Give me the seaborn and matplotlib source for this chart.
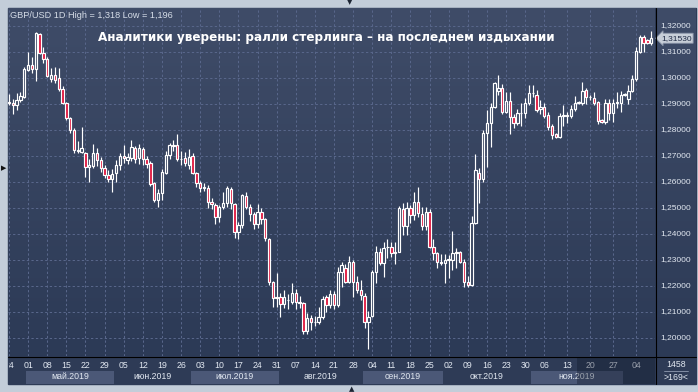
"""
GBP/USD 1D - свечной график, апрель-декабрь 2019
"""
import numpy as np
import pandas as pd
import matplotlib
matplotlib.use("Agg")
import matplotlib.pyplot as plt
from matplotlib.patches import Rectangle
from matplotlib.lines import Line2D
import seaborn as sns

# ---------------------------------------------------------------- données
# séances en semaine + petites séances du dimanche (fin novembre)
SUNDAY_BARS = ["2019-11-10", "2019-11-17", "2019-11-24", "2019-12-01", "2019-12-08"]
DATES = pd.bdate_range("2019-04-24", "2019-12-09").union(pd.to_datetime(SUNDAY_BARS))

OPENS = [
    1.2908, 1.2905, 1.2898,
    1.2915, 1.2926, 1.3031, 1.3050, 1.3035,
    1.3168, 1.3095, 1.3072, 1.2997, 1.3010,
    1.3000, 1.2956, 1.2905, 1.2845, 1.2800,
    1.2718, 1.2717, 1.2710, 1.2659, 1.2662,
    1.2712, 1.2685, 1.2654, 1.2628, 1.2611,
    1.2633, 1.2665, 1.2700, 1.2685, 1.2691,
    1.2730, 1.2691, 1.2727, 1.2687, 1.2672,
    1.2595, 1.2531, 1.2556, 1.2636, 1.2704,
    1.2742, 1.2742, 1.2687, 1.2691, 1.2665,
    1.2700, 1.2636, 1.2595, 1.2578, 1.2578,
    1.2524, 1.2512, 1.2464, 1.2503, 1.2520,
    1.2573, 1.2515, 1.2406, 1.2433, 1.2547,
    1.2505, 1.2476, 1.2438, 1.2483, 1.2456,
    1.2380, 1.2216, 1.2153, 1.2156, 1.2130,
    1.2148, 1.2140, 1.2172, 1.2140, 1.2133,
    1.2028, 1.2076, 1.2060, 1.2063, 1.2082,
    1.2156, 1.2127, 1.2170, 1.2127, 1.2255,
    1.2268, 1.2217, 1.2294, 1.2217, 1.2185,
    1.2162, 1.2063, 1.2085, 1.2255, 1.2332,
    1.2287, 1.2349, 1.2349, 1.2326, 1.2332,
    1.2495, 1.2431, 1.2499, 1.2473, 1.2524,
    1.2476, 1.2431, 1.2486, 1.2351, 1.2326,
    1.2294, 1.2288, 1.2300, 1.2300, 1.2326,
    1.2329, 1.2294, 1.2217, 1.2204, 1.2443,
    1.2636, 1.2610, 1.2787, 1.2828, 1.2890,
    1.2950, 1.2960, 1.2870, 1.2913, 1.2849,
    1.2828, 1.2864, 1.2864, 1.2903, 1.2941,
    1.2935, 1.2880, 1.2890, 1.2857, 1.2815,
    1.2785, 1.2772, 1.2854, 1.2856, 1.2854, 1.2880,
    1.2905, 1.2905, 1.2954, 1.2926, 1.2925, 1.2906,
    1.2838, 1.2831, 1.2905, 1.2864, 1.2905, 1.2905,
    1.2935, 1.2920, 1.2950, 1.2996, 1.3101, 1.3159,
    1.3146, 1.3133,
]
HIGHS = [
    1.2938, 1.2920, 1.2944,
    1.2947, 1.3044, 1.3101, 1.3082, 1.3176,
    1.3172, 1.3120, 1.3080, 1.3037, 1.3044,
    1.3037, 1.2969, 1.2909, 1.2851, 1.2806,
    1.2756, 1.2813, 1.2717, 1.2690, 1.2748,
    1.2730, 1.2695, 1.2665, 1.2645, 1.2650,
    1.2685, 1.2710, 1.2742, 1.2710, 1.2763,
    1.2740, 1.2745, 1.2735, 1.2700, 1.2680,
    1.2600, 1.2575, 1.2650, 1.2720, 1.2750,
    1.2760, 1.2785, 1.2720, 1.2715, 1.2727,
    1.2710, 1.2640, 1.2605, 1.2595, 1.2590,
    1.2540, 1.2520, 1.2510, 1.2560, 1.2583,
    1.2580, 1.2520, 1.2445, 1.2555, 1.2560,
    1.2515, 1.2483, 1.2515, 1.2500, 1.2460,
    1.2385, 1.2220, 1.2250, 1.2175, 1.2185,
    1.2170, 1.2210, 1.2190, 1.2160, 1.2140,
    1.2095, 1.2090, 1.2085, 1.2120, 1.2160,
    1.2165, 1.2185, 1.2180, 1.2273, 1.2294,
    1.2285, 1.2315, 1.2300, 1.2237, 1.2225,
    1.2172, 1.2105, 1.2262, 1.2352, 1.2345,
    1.2370, 1.2380, 1.2371, 1.2371, 1.2506,
    1.2518, 1.2525, 1.2512, 1.2563, 1.2582,
    1.2505, 1.2502, 1.2495, 1.2380, 1.2332,
    1.2325, 1.2325, 1.2318, 1.2410, 1.2345,
    1.2336, 1.2303, 1.2237, 1.2469, 1.2707,
    1.2653, 1.2800, 1.2877, 1.2903, 1.2986,
    1.3012, 1.2978, 1.2948, 1.2948, 1.2860,
    1.2880, 1.2903, 1.2925, 1.2975, 1.2975,
    1.2955, 1.2915, 1.2905, 1.2870, 1.2825,
    1.2790, 1.2865, 1.2898, 1.2871, 1.2895, 1.2930,
    1.2912, 1.2985, 1.2960, 1.2935, 1.2945, 1.2912,
    1.2842, 1.2918, 1.2920, 1.2920, 1.2947, 1.2950,
    1.2942, 1.2975, 1.3010, 1.3120, 1.3165, 1.3165,
    1.3150, 1.3180,
]
LOWS = [
    1.2896, 1.2862, 1.2877,
    1.2909, 1.2922, 1.3028, 1.3021, 1.2990,
    1.3092, 1.3056, 1.3003, 1.2986, 1.2982,
    1.2951, 1.2900, 1.2838, 1.2790, 1.2713,
    1.2713, 1.2710, 1.2620, 1.2601, 1.2655,
    1.2660, 1.2640, 1.2615, 1.2600, 1.2560,
    1.2600, 1.2645, 1.2672, 1.2670, 1.2680,
    1.2675, 1.2670, 1.2665, 1.2655, 1.2585,
    1.2525, 1.2505, 1.2530, 1.2630, 1.2690,
    1.2720, 1.2680, 1.2665, 1.2660, 1.2650,
    1.2630, 1.2580, 1.2560, 1.2565, 1.2500,
    1.2495, 1.2440, 1.2445, 1.2495, 1.2505,
    1.2495, 1.2385, 1.2382, 1.2425, 1.2495,
    1.2450, 1.2420, 1.2425, 1.2440, 1.2375,
    1.2205, 1.2120, 1.2120, 1.2080, 1.2115,
    1.2110, 1.2130, 1.2110, 1.2115, 1.2015,
    1.2015, 1.2030, 1.2045, 1.2055, 1.2075,
    1.2100, 1.2115, 1.2110, 1.2120, 1.2197,
    1.2210, 1.2210, 1.2157, 1.2172, 1.2145,
    1.2037, 1.1958, 1.2082, 1.2210, 1.2280,
    1.2235, 1.2307, 1.2310, 1.2285, 1.2330,
    1.2397, 1.2397, 1.2441, 1.2454, 1.2467,
    1.2415, 1.2415, 1.2345, 1.2300, 1.2268,
    1.2281, 1.2210, 1.2229, 1.2263, 1.2270,
    1.2288, 1.2197, 1.2195, 1.2199, 1.2440,
    1.2519, 1.2601, 1.2657, 1.2735, 1.2886,
    1.2935, 1.2860, 1.2865, 1.2785, 1.2808,
    1.2818, 1.2815, 1.2848, 1.2895, 1.2928,
    1.2868, 1.2860, 1.2845, 1.2800, 1.2765,
    1.2768, 1.2768, 1.2815, 1.2826, 1.2845, 1.2872,
    1.2900, 1.2895, 1.2900, 1.2915, 1.2895, 1.2825,
    1.2826, 1.2825, 1.2840, 1.2830, 1.2883, 1.2870,
    1.2930, 1.2900, 1.2945, 1.2990, 1.3095, 1.3101,
    1.3130, 1.3128,
]
CLOSES = [
    1.2905, 1.2898, 1.2915,
    1.2932, 1.3033, 1.3050, 1.3035, 1.3172,
    1.3095, 1.3072, 1.3008, 1.3010, 1.2994,
    1.2956, 1.2905, 1.2845, 1.2800, 1.2723,
    1.2725, 1.2729, 1.2659, 1.2665, 1.2712,
    1.2685, 1.2654, 1.2628, 1.2611, 1.2630,
    1.2665, 1.2700, 1.2691, 1.2695, 1.2736,
    1.2687, 1.2730, 1.2687, 1.2669, 1.2592,
    1.2531, 1.2556, 1.2640, 1.2704, 1.2742,
    1.2738, 1.2687, 1.2690, 1.2672, 1.2697,
    1.2636, 1.2595, 1.2576, 1.2580, 1.2524,
    1.2515, 1.2464, 1.2503, 1.2520, 1.2576,
    1.2518, 1.2406, 1.2433, 1.2550, 1.2503,
    1.2476, 1.2438, 1.2483, 1.2456, 1.2383,
    1.2214, 1.2153, 1.2156, 1.2130, 1.2156,
    1.2146, 1.2172, 1.2140, 1.2133, 1.2028,
    1.2076, 1.2060, 1.2063, 1.2082, 1.2150,
    1.2127, 1.2170, 1.2127, 1.2255, 1.2280,
    1.2217, 1.2294, 1.2217, 1.2185, 1.2166,
    1.2063, 1.2082, 1.2255, 1.2332, 1.2287,
    1.2345, 1.2349, 1.2326, 1.2332, 1.2499,
    1.2431, 1.2499, 1.2473, 1.2524, 1.2479,
    1.2431, 1.2486, 1.2351, 1.2326, 1.2294,
    1.2290, 1.2300, 1.2302, 1.2326, 1.2329,
    1.2294, 1.2217, 1.2204, 1.2443, 1.2648,
    1.2610, 1.2787, 1.2828, 1.2890, 1.2980,
    1.2962, 1.2870, 1.2913, 1.2849, 1.2826,
    1.2864, 1.2866, 1.2905, 1.2941, 1.2943,
    1.2877, 1.2890, 1.2854, 1.2813, 1.2780,
    1.2772, 1.2854, 1.2856, 1.2854, 1.2880, 1.2905,
    1.2908, 1.2950, 1.2926, 1.2928, 1.2905, 1.2836,
    1.2831, 1.2905, 1.2864, 1.2905, 1.2907, 1.2935,
    1.2938, 1.2950, 1.2996, 1.3105, 1.3159, 1.3136,
    1.3133, 1.3153,
]

PRICE_TICKS = [1.20, 1.21, 1.22, 1.23, 1.24, 1.25, 1.26,
               1.27, 1.28, 1.29, 1.30, 1.31, 1.32]
MONTHS_RU = ['янв', 'фев', 'мар', 'апр', 'май', 'июн',
             'июл', 'авг', 'сен', 'окт', 'ноя', 'дек']
TITLE = "Аналитики уверены: ралли стерлинга – на последнем издыхании"
SYMBOL = "GBP/USD 1D"
HISTORY_BARS = 1458
SCROLL_FROM = "2019-11-17"   # zone assombrie sur l'échelle des dates

# ---------------------------------------------------------------- style
W, H = 698, 392
FRAME = '#c3cdd9'
PANEL = '#2e3b56'
BG_TOP, BG_BOT = '#3f4c68', '#2c3a56'
GRID = '#58668a'
RED = '#e0163e'
TXT = '#e2e8f1'

sns.set_theme(style="dark")
plt.rcParams['font.family'] = ['Liberation Sans', 'DejaVu Sans']

Y_TOP, Y_BOT = 1.32 + 18 / 2600, 1.32 - 330 / 2600
STEP = 3.823
X_LIM = (-(9 - 8) / STEP, len(CLOSES) - 1 + (655 - 651.3) / STEP)


def rect(x0, y0, x1, y1):
    return [x0 / W, 1 - y1 / H, (x1 - x0) / W, (y1 - y0) / H]


fig = plt.figure(figsize=(W / 100, H / 100), dpi=100, facecolor=FRAME)
fig.patches.append(Rectangle((8 / W, 1 - 384 / H), 688 / W, 376 / H,
                             transform=fig.transFigure, color=PANEL, zorder=-5))

ax = fig.add_axes(rect(8, 8, 655, 356))
axr = fig.add_axes(rect(656, 8, 696, 356))
axd = fig.add_axes(rect(9, 357, 655, 384))
axc = fig.add_axes(rect(656, 357, 696, 384))
for a in (ax, axr, axd, axc):
    a.set_axis_off()

# dégradé de fond
grad_cols = sns.blend_palette([BG_TOP, BG_BOT], n_colors=256)
grad = np.array(grad_cols)[:, None, :]
ax.imshow(grad, extent=[X_LIM[0], X_LIM[1], Y_BOT, Y_TOP], aspect='auto',
          zorder=0, interpolation='bilinear')
axr.imshow(grad, extent=[0, 40, Y_BOT, Y_TOP], aspect='auto',
           zorder=0, interpolation='bilinear')
ax.set_xlim(*X_LIM)
ax.set_ylim(Y_BOT, Y_TOP)
axr.set_xlim(0, 40)
axr.set_ylim(Y_BOT, Y_TOP)
axd.set_xlim(X_LIM[0] + 1 / STEP, X_LIM[1])
axd.set_ylim(27, 0)
axc.set_xlim(0, 40)
axc.set_ylim(27, 0)

# grille
wed = [i for i, d in enumerate(DATES) if d.weekday() == 2]
for p in PRICE_TICKS:
    ax.axhline(p, color=GRID, lw=0.75, dashes=(2.2, 2.2), zorder=1)
for i in wed:
    ax.axvline(i, color=GRID, lw=0.75, dashes=(2.2, 2.2), zorder=1)

# bougies
x = np.arange(len(CLOSES))
o, h, l, c = (np.array(v) for v in (OPENS, HIGHS, LOWS, CLOSES))
up = c >= o
t = (Y_TOP - (o + c) / 2) / (Y_TOP - Y_BOT)
hollow = [grad_cols[int(np.clip(v, 0, 1) * 255)] for v in t]
fills = [hc if u else RED for u, hc in zip(up, hollow)]
ax.vlines(x, l, h, colors='white', linewidth=0.85, zorder=3)
ax.bar(x, np.maximum(np.abs(c - o), 0.00004), bottom=np.minimum(o, c),
       width=0.62, color=fills, edgecolor='white', linewidth=0.85, zorder=4)

# textes du graphique
fig.text(10 / W, 1 - 15 / H,
         f"{SYMBOL} High = {max(HIGHS):.3f} Low = {min(LOWS):.3f}".replace('.', ','),
         color='#d6dde8', fontsize=6.6, va='center', ha='left')
fig.text(98 / W, 1 - 37 / H, TITLE, color='white', fontsize=8.65,
         fontweight='bold', family=['DejaVu Sans'], va='center', ha='left')

# échelle des prix
for p in PRICE_TICKS:
    axr.text(4, p, f"{p:.5f}".replace('.', ','), color=TXT, fontsize=6,
             va='center', ha='left')
axr.text(5, CLOSES[-1], f"{CLOSES[-1]:.5f}".replace('.', ','), color='#1f2a44',
         fontsize=6, va='center', ha='left',
         bbox=dict(boxstyle='larrow,pad=0.18', facecolor='#c7ced8',
                   edgecolor='#8a94a8', linewidth=0.6))

# échelle des dates
months = pd.Series(range(len(DATES)), index=DATES)
for (yr, mo), idx in months.groupby([DATES.year, DATES.month]):
    i0, i1 = idx.iloc[0], idx.iloc[-1]
    if mo % 2 == 1:
        axd.add_patch(Rectangle((i0 - 0.5, 14), i1 - i0 + 1, 12.7,
                                color='#4b5877', zorder=1, lw=0))
    if i1 - i0 > 10:
        lab = f"{MONTHS_RU[mo - 1]}.{yr}"
        if i1 == len(DATES) - 1:
            axd.text(i0, 19.5, lab, color=TXT, fontsize=6.3, ha='left',
                     va='center', zorder=2, clip_on=True)
        else:
            axd.text((i0 + i1) / 2, 19.5, lab, color=TXT, fontsize=6.3,
                     ha='center', va='center', zorder=2, clip_on=True)
for i in wed:
    axd.text(i, 8.5, DATES[i].strftime('%d'), color=TXT, fontsize=6.3,
             ha='center', va='center', zorder=2, clip_on=True)
s0 = DATES.get_loc(pd.Timestamp(SCROLL_FROM)) - 0.5
axd.add_patch(Rectangle((s0, 0), X_LIM[1] - s0, 27, color='#0e1626',
                        alpha=0.35, zorder=3, lw=0))

# coin bas droit
axc.text(20, 7.5, str(HISTORY_BARS), color=TXT, fontsize=6.3, ha='center', va='center')
axc.plot([8, 32], [13.5, 13.5], color='#8f9ab0', lw=0.6)
axc.text(20, 20, f">{len(CLOSES)}<", color=TXT, fontsize=6.3, ha='center', va='center')

# séparateurs noirs
fig.add_artist(Line2D([655.5 / W, 655.5 / W], [1 - 8 / H, 1 - 384 / H],
                      color='black', lw=0.8, transform=fig.transFigure))
fig.add_artist(Line2D([8 / W, 696 / W], [1 - 356.5 / H, 1 - 356.5 / H],
                      color='black', lw=0.8, transform=fig.transFigure))

# petits repères du curseur
fig.text(4 / W, 1 - 168 / H, "▶", color='#111111', fontsize=5,
         family=['DejaVu Sans'], ha='center', va='center')
fig.text(350 / W, 1 - 2 / H, "▼", color='#1c2433', fontsize=5,
         family=['DejaVu Sans'], ha='center', va='center')
fig.text(352 / W, 1 - 389 / H, "▲", color='#1c2433', fontsize=5,
         family=['DejaVu Sans'], ha='center', va='center')

fig.savefig("out.png", dpi=100, facecolor=FRAME)
plt.close(fig)
